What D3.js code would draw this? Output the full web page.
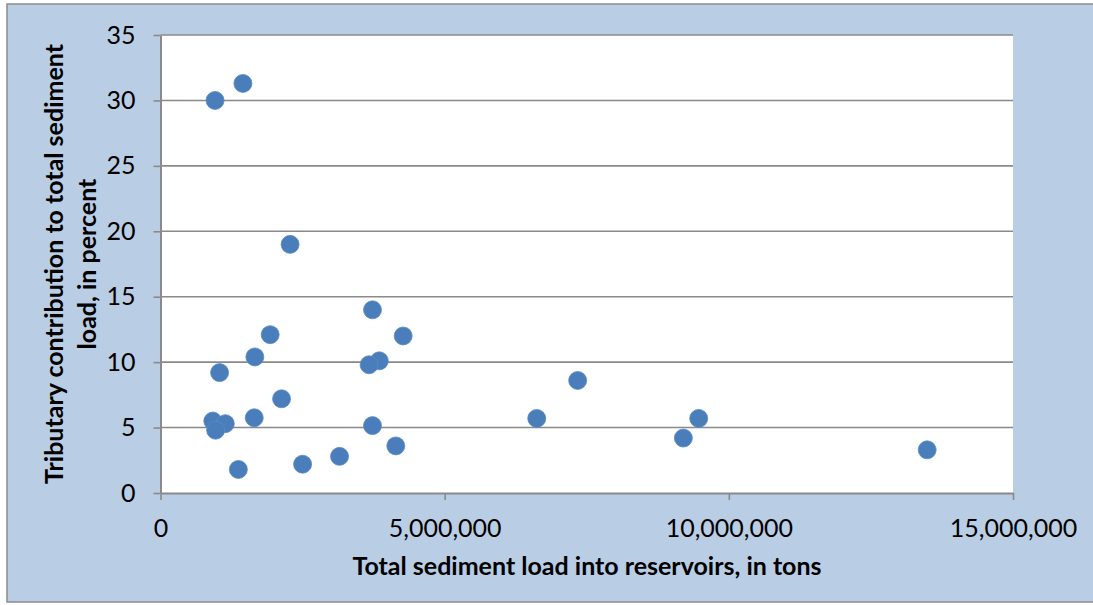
<!DOCTYPE html>
<html>
<head>
<meta charset="utf-8">
<script src="https://cdn.jsdelivr.net/npm/d3@7"></script>
<style>
  html, body { margin: 0; padding: 0; background: #fff; }
  svg { display: block; }
</style>
</head>
<body>
<svg id="chart" width="1093" height="605"></svg>
<script>
// Total sediment load into each reservoir (tons)
const sedimentLoad = [
  960000, 1450000, 2280000, 3730000, 4270000, 1930000, 1660000, 1040000,
  3850000, 3670000, 2130000, 1650000, 920000, 1140000, 970000, 3730000,
  4140000, 1370000, 2500000, 3150000, 7340000, 6620000, 9200000, 9470000,
  13490000
];
// Tributary contribution to that load (percent)
const tributaryPct = [
  30.0, 31.3, 19.0, 14.0, 12.0, 12.1, 10.4, 9.2,
  10.1, 9.8, 7.2, 5.75, 5.5, 5.3, 4.8, 5.15,
  3.6, 1.8, 2.2, 2.8, 8.6, 5.7, 4.2, 5.7,
  3.3
];
const xTicks = [0, 5000000, 10000000, 15000000];
const yTicks = [0, 5, 10, 15, 20, 25, 30, 35];
const xTitle = "Total sediment load into reservoirs, in tons";
const yTitleLines = ["Tributary contribution to total sediment", "load, in percent"];

const svg = d3.select("#chart");
const font = "Lato, 'Open Sans', sans-serif";
const gridColor = "#8a8a8a";

// chart background panel
svg.append("rect")
  .attr("x", 7).attr("y", 4)
  .attr("width", 1100).attr("height", 598)
  .attr("fill", "#b9cde5")
  .attr("stroke", "#8c8c8c").attr("stroke-width", 1.5);

const plot = { left: 160.5, right: 1013, top: 35, bottom: 493 };

const x = d3.scaleLinear().domain([0, 15000000]).range([plot.left, plot.right]);
const y = d3.scaleLinear().domain([0, 35]).range([plot.bottom, plot.top]);

// plot area
svg.append("rect")
  .attr("x", plot.left).attr("y", plot.top)
  .attr("width", plot.right - plot.left).attr("height", plot.bottom - plot.top)
  .attr("fill", "#ffffff");

// horizontal gridlines
svg.append("g").selectAll("line")
  .data(yTicks.filter(t => t > 0))
  .join("line")
  .attr("x1", plot.left).attr("x2", plot.right)
  .attr("y1", d => y(d)).attr("y2", d => y(d))
  .attr("stroke", gridColor).attr("stroke-width", 1.6);

// y axis
const yAxis = svg.append("g")
  .attr("transform", `translate(${plot.left},0)`)
  .call(d3.axisLeft(y).tickValues(yTicks).tickSize(7).tickPadding(18).tickSizeOuter(0));
yAxis.select(".domain").attr("stroke", gridColor).attr("stroke-width", 2);
yAxis.selectAll(".tick line").attr("stroke", gridColor).attr("stroke-width", 1.6);
yAxis.selectAll(".tick text")
  .attr("font-family", font).attr("font-size", 25).attr("fill", "#000");

// x axis
const xAxis = svg.append("g")
  .attr("transform", `translate(0,${plot.bottom})`)
  .call(d3.axisBottom(x).tickValues(xTicks).tickSize(7).tickPadding(19)
    .tickSizeOuter(0).tickFormat(d3.format(",")));
xAxis.select(".domain").attr("stroke", gridColor).attr("stroke-width", 2);
xAxis.selectAll(".tick line").attr("stroke", gridColor).attr("stroke-width", 1.6);
xAxis.selectAll(".tick text")
  .attr("font-family", font).attr("font-size", 25).attr("fill", "#000");

// data points
svg.append("g").selectAll("circle")
  .data(sedimentLoad.map((v, i) => [v, tributaryPct[i]]))
  .join("circle")
  .attr("cx", d => x(d[0])).attr("cy", d => y(d[1]))
  .attr("r", 9)
  .attr("fill", "#4a7ebb")
  .attr("stroke", "#5b8ac4").attr("stroke-width", 0.8);

// x axis title
svg.append("text")
  .attr("x", 587)
  .attr("y", 575)
  .attr("text-anchor", "middle")
  .attr("font-family", font).attr("font-size", 25).attr("font-weight", "bold")
  .text(xTitle);

// y axis title, two lines
const yMid = (plot.top + plot.bottom) / 2;
const yTitle = svg.append("text")
  .attr("transform", `translate(63,${yMid}) rotate(-90)`)
  .attr("text-anchor", "middle")
  .attr("font-family", font).attr("font-size", 25).attr("font-weight", "bold");
yTitleLines.forEach((line, i) => {
  yTitle.append("tspan").attr("x", 0).attr("dy", i === 0 ? 0 : 33).text(line);
});
</script>
</body>
</html>
